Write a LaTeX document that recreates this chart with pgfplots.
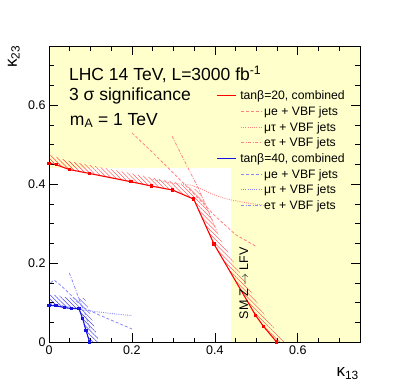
\documentclass[border=0pt]{standalone}
\usepackage{fontspec}
\setmainfont{Liberation Sans}
\usepackage{pgfplots}
\pgfplotsset{compat=1.18}
\usetikzlibrary{patterns.meta}
\definecolor{bgyellow}{RGB}{255,255,204}
\definecolor{cred}{RGB}{255,0,0}
\definecolor{hred}{RGB}{255,60,60}
\definecolor{lred}{RGB}{255,130,130}
\definecolor{cblue}{RGB}{20,20,225}
\definecolor{hblue}{RGB}{70,70,240}
\definecolor{lblue}{RGB}{135,135,255}
\tikzset{
  mue/.style={line width=0.8pt, dash pattern=on 3pt off 2pt},
  mutau/.style={line width=0.8pt, dash pattern=on 1pt off 1.2pt},
  etau/.style={line width=0.8pt, dash pattern=on 3pt off 1.5pt on 1pt off 1.5pt},
  legtext/.style={anchor=base west, inner sep=0pt, font=\fontsize{12.2}{14}\selectfont},
  bigtext/.style={anchor=base west, inner sep=0pt, font=\fontsize{17.5}{20}\selectfont},
}
\begin{document}
\begin{tikzpicture}
\path[use as bounding box] (0pt,0pt) rectangle (409pt,389pt);
\begin{axis}[
  at={(49pt,47pt)}, anchor=south west,
  scale only axis, width=311pt, height=296pt,
  xmin=0, xmax=0.75, ymin=0, ymax=0.75,
  xtick={0,0.2,0.4,0.6}, ytick={0,0.2,0.4,0.6},
  minor xtick={0.05,0.1,0.15,0.25,0.3,0.35,0.45,0.5,0.55,0.65,0.7},
  minor ytick={0.05,0.1,0.15,0.25,0.3,0.35,0.45,0.5,0.55,0.65,0.7},
  tick pos=both, tick align=inside,
  major tick length=9pt, minor tick length=4.5pt,
  axis line style={line width=0.8pt, black},
  every tick/.style={black, line width=0.6pt},
  /pgf/number format/assume math mode=true,
  tick label style={font=\fontsize{12.5}{14}\selectfont},
  axis background/.style={fill=bgyellow},
  axis on top,
  xlabel={κ\textsubscript{13}},
  xlabel style={at={(axis description cs:0.9968,-0.118)}, anchor=base east, inner sep=0pt, font=\fontsize{17}{20}\selectfont},
  ylabel={κ\textsubscript{23}},
  ylabel style={at={(axis description cs:-0.103,1.003)}, anchor=base east, inner sep=0pt, font=\fontsize{17}{20}\selectfont},
]
% allowed (white) region
\addplot[forget plot, draw=none, fill=white] coordinates {(0,0) (0.438,0) (0.438,0.44) (0,0.44)} -- cycle;

% hatched bands
\addplot[forget plot, draw=none, pattern={Lines[angle=-45,distance=3pt,line width=0.4pt]}, pattern color=hred] coordinates {
(0,0.453) (0.018,0.449) (0.049,0.437) (0.098,0.427) (0.198,0.406) (0.248,0.395) (0.298,0.385) (0.349,0.362) (0.398,0.248) (0.498,0.068) (0.517,0.040) (0.549,0.0)
(0.567,0.0) (0.534,0.048) (0.515,0.077) (0.415,0.257) (0.364,0.383) (0.3,0.406) (0.25,0.416) (0.2,0.427) (0.1,0.448) (0.05,0.458) (0,0.474)} -- cycle;
\addplot[forget plot, draw=none, pattern={Lines[angle=-45,distance=3pt,line width=0.4pt]}, pattern color=hblue] coordinates {
(0,0.092) (0.017,0.092) (0.038,0.087) (0.054,0.085) (0.072,0.085) (0.081,0.060) (0.089,0.030) (0.098,0.0)
(0.121,0.0) (0.112,0.03) (0.103,0.06) (0.086,0.111) (0.054,0.112) (0.038,0.114) (0.017,0.119) (0,0.119)} -- cycle;

% tan beta = 20 individual channels
\addplot[forget plot, lred, mue] coordinates {(0.2,0.53) (0.25,0.48) (0.3,0.428) (0.35,0.375) (0.4,0.32) (0.45,0.272) (0.498,0.243)};
\addplot[forget plot, lred, mutau] coordinates {(0.25,0.412) (0.3,0.402) (0.34,0.398) (0.362,0.39) (0.4,0.372) (0.434,0.361) (0.48,0.352) (0.522,0.346)};
\addplot[forget plot, lred, etau] coordinates {(0.297,0.521) (0.33,0.452) (0.36,0.39) (0.385,0.33) (0.405,0.28)};

% tan beta = 40 individual channels
\addplot[forget plot, lblue, mue] coordinates {(0.004,0.150) (0.012,0.157) (0.03,0.142) (0.05,0.122) (0.07,0.1) (0.085,0.086) (0.12,0.069) (0.16,0.051) (0.2,0.033)};
\addplot[forget plot, lblue, mutau] coordinates {(0,0.098) (0.04,0.091) (0.073,0.082) (0.12,0.076) (0.16,0.071) (0.2,0.067)};
\addplot[forget plot, lblue, etau] coordinates {(0.049,0.175) (0.06,0.145) (0.073,0.107) (0.086,0.075) (0.095,0.045) (0.1,0.03)};

% combined
\addplot[forget plot, cred, line width=1.1pt, mark=square*, mark size=1.1pt] coordinates {
(0,0.453) (0.018,0.449) (0.049,0.437) (0.098,0.427) (0.198,0.406) (0.248,0.395) (0.298,0.385) (0.349,0.362) (0.398,0.248) (0.498,0.068) (0.517,0.040) (0.549,0.0)};
\addplot[forget plot, cblue, line width=1.1pt, mark=square*, mark size=1.1pt] coordinates {
(0,0.092) (0.017,0.092) (0.038,0.087) (0.054,0.085) (0.072,0.085) (0.081,0.060) (0.089,0.030) (0.098,0.0)};

% legend samples
\addplot[forget plot, cred, line width=1.2pt] coordinates {(0.4056,0.6242) (0.4512,0.6242)};
\addplot[forget plot, lred, mue] coordinates {(0.4632,0.5845) (0.5136,0.5845)};
\addplot[forget plot, lred, mutau] coordinates {(0.4632,0.5448) (0.5136,0.5448)};
\addplot[forget plot, lred, etau] coordinates {(0.4632,0.5051) (0.5136,0.5051)};
\addplot[forget plot, cblue, line width=1.2pt] coordinates {(0.4056,0.4654) (0.4512,0.4654)};
\addplot[forget plot, lblue, mue] coordinates {(0.4632,0.4257) (0.5136,0.4257)};
\addplot[forget plot, lblue, mutau] coordinates {(0.4632,0.3860) (0.5136,0.3860)};
\addplot[forget plot, lblue, etau] coordinates {(0.4632,0.3463) (0.5136,0.3463)};
% legend texts
\node[legtext] at (axis cs:0.4608,0.6140) {tanβ=20, combined};
\node[legtext] at (axis cs:0.5184,0.5743) {μe + VBF jets};
\node[legtext] at (axis cs:0.5184,0.5346) {μτ + VBF jets};
\node[legtext] at (axis cs:0.5184,0.4949) {eτ + VBF jets};
\node[legtext] at (axis cs:0.4608,0.4552) {tanβ=40, combined};
\node[legtext] at (axis cs:0.5184,0.4155) {μe + VBF jets};
\node[legtext] at (axis cs:0.5184,0.3758) {μτ + VBF jets};
\node[legtext] at (axis cs:0.5184,0.3361) {eτ + VBF jets};

% texts
\node[bigtext] at (axis cs:0.048,0.6616) {LHC 14 TeV, L=3000 fb\textsuperscript{-1}};
\node[bigtext] at (axis cs:0.048,0.6107) {3 σ significance};
\node[bigtext] at (axis cs:0.05,0.5496) {m\textsubscript{A} = 1 TeV};
\node[rotate=90, anchor=base, inner sep=0pt, font=\fontsize{12.5}{14}\selectfont] at (axis cs:0.48,0.149) {SM Z $\rightarrow$ LFV};
\end{axis}
\end{tikzpicture}
\end{document}
